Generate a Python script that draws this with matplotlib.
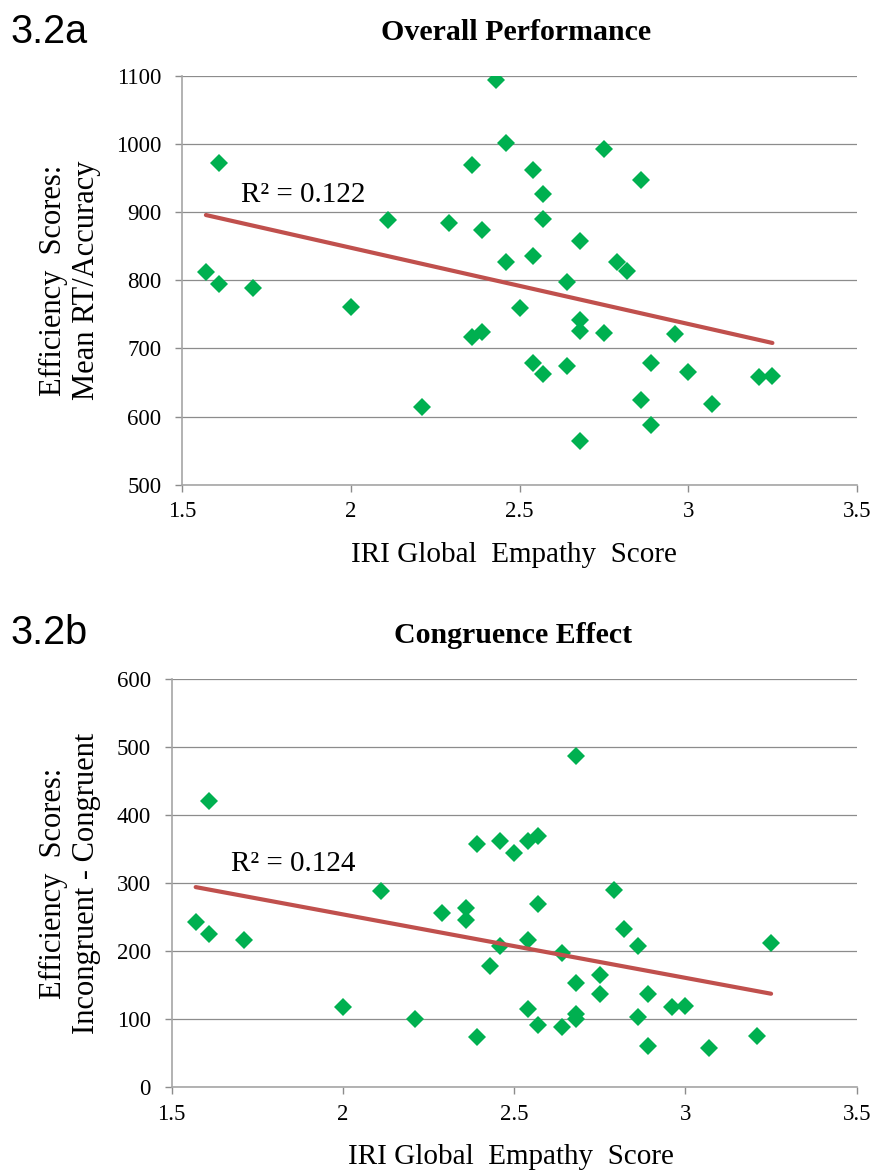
import numpy as np
import matplotlib
matplotlib.use("Agg")
import matplotlib.pyplot as plt

# IRI global empathy score per participant (shared by both panels)
iri_score = [1.57, 1.61, 1.61, 1.71, 2.00, 2.11, 2.21, 2.29, 2.36, 2.36,
             2.39, 2.39, 2.43, 2.46, 2.46, 2.50, 2.54, 2.54, 2.54, 2.57,
             2.57, 2.57, 2.64, 2.64, 2.68, 2.68, 2.68, 2.68, 2.75, 2.75,
             2.79, 2.82, 2.86, 2.86, 2.89, 2.89, 2.96, 3.00, 3.07, 3.21,
             3.25]

# 3.2a: mean RT / accuracy
overall_eff = [812, 972, 794, 788, 761, 889, 614, 884, 969, 716,
               873, 724, 1093, 1001, 827, 759, 961, 835, 678, 926,
               890, 663, 798, 674, 857, 742, 726, 564, 992, 722,
               827, 814, 947, 624, 679, 587, 721, 666, 619, 658,
               659]

# 3.2b: incongruent - congruent
congruence_eff = [243, 420, 226, 217, 118, 288, 100, 256, 264, 246,
                  358, 74, 178, 362, 208, 344, 362, 217, 115, 370,
                  269, 91, 197, 88, 487, 153, 108, 101, 165, 137,
                  290, 232, 207, 104, 137, 61, 118, 120, 58, 75,
                  212]

r2_labels = ["R\u00b2 = 0.122", "R\u00b2 = 0.124"]

SERIF = "Liberation Serif"
SANS = "Liberation Sans"
GREEN = "#00B050"
RED = "#C0504D"

W, H = 873, 1171
fig = plt.figure(figsize=(W / 100, H / 100), dpi=100)


def add_axes_px(left, top, right, bottom):
    return fig.add_axes([left / W, 1 - bottom / H, (right - left) / W, (bottom - top) / H])


def fig_text(x, y, s, **kw):
    fig.text(x / W, 1 - y / H, s, **kw)


def draw_panel(ax, x, y, ylim, yticks, r2_text, r2_pos):
    x = np.asarray(x, dtype=float)
    y = np.asarray(y, dtype=float)
    ax.set_xlim(1.5, 3.5)
    ax.set_ylim(*ylim)
    ax.set_xticks([1.5, 2, 2.5, 3, 3.5])
    ax.set_xticklabels(["1.5", "2", "2.5", "3", "3.5"])
    ax.set_yticks(yticks)
    ax.yaxis.grid(True, color="#8C8C8C", lw=0.9)
    ax.set_axisbelow(True)
    for side in ("top", "right"):
        ax.spines[side].set_visible(False)
    for side in ("left", "bottom"):
        ax.spines[side].set_color("#A6A6A6")
        ax.spines[side].set_linewidth(1.2)
    ax.tick_params(direction="out", length=5, width=1, color="#8C8C8C",
                   labelsize=16.5)
    ax.tick_params(axis="x", pad=7)
    ax.tick_params(axis="y", pad=10)
    for lab in ax.get_xticklabels() + ax.get_yticklabels():
        lab.set_fontfamily(SERIF)

    ax.plot(x, y, linestyle="none", marker="D", markersize=9.5,
            markerfacecolor=GREEN, markeredgewidth=0, zorder=3)

    # linear trendline over the observed range
    slope, intercept = np.polyfit(x, y, 1)
    xs = np.array([x.min(), x.max()])
    ax.plot(xs, slope * xs + intercept, color=RED, lw=3,
            solid_capstyle="round", zorder=4)
    ax.text(r2_pos[0], r2_pos[1], r2_text, family=SERIF, fontsize=21,
            ha="left", va="baseline", zorder=5)


ax1 = add_axes_px(182.3, 75.7, 856.7, 484.7)
draw_panel(ax1, iri_score, overall_eff, (500, 1100),
           np.arange(500, 1101, 100), r2_labels[0], (1.673, 915))

ax2 = add_axes_px(171.7, 679, 856.7, 1087.3)
draw_panel(ax2, iri_score, congruence_eff, (0, 600),
           np.arange(0, 601, 100), r2_labels[1], (1.673, 318))

# panel tags and titles
fig_text(10, 43, "3.2a", family=SANS, fontsize=28.5, va="baseline")
fig_text(10, 644, "3.2b", family=SANS, fontsize=28.5, va="baseline")
fig_text(516, 40, "Overall Performance", family=SERIF, fontsize=21.5,
         weight="bold", ha="center", va="baseline")
fig_text(513, 643, "Congruence Effect", family=SERIF, fontsize=21.5,
         weight="bold", ha="center", va="baseline")

# axis labels
fig_text(514, 562, "IRI Global  Empathy  Score", family=SERIF, fontsize=21,
         ha="center", va="baseline")
fig_text(511, 1164, "IRI Global  Empathy  Score", family=SERIF, fontsize=21,
         ha="center", va="baseline")
fig_text(70, 280, "Efficiency  Scores:\nMean RT/Accuracy", family=SERIF,
         fontsize=22, rotation=90, ha="center", va="center",
         multialignment="center", linespacing=1.2)
fig_text(70, 883, "Efficiency  Scores:\nIncongruent - Congruent", family=SERIF,
         fontsize=22, rotation=90, ha="center", va="center",
         multialignment="center", linespacing=1.2)

fig.savefig("out.png", dpi=100)
